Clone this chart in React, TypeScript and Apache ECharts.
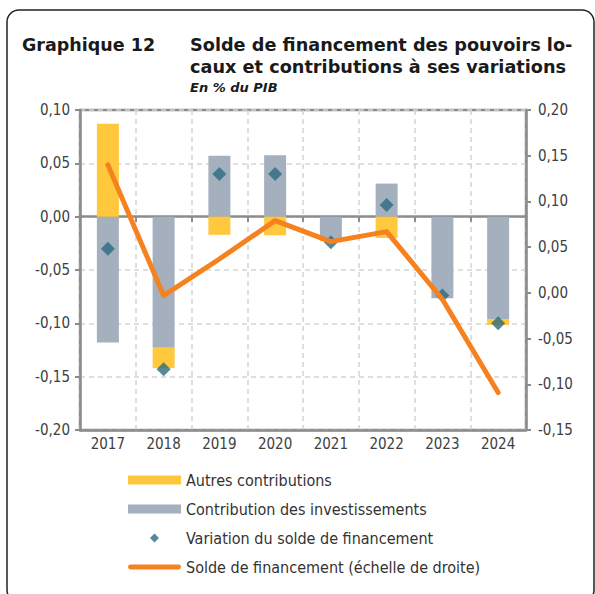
import React, { useEffect, useRef } from "react";
import * as echarts from "echarts";

const years = ["2017", "2018", "2019", "2020", "2021", "2022", "2023", "2024"];
const autresContributions = [0.087, -0.019, -0.017, -0.0175, -0.002, -0.02, 0, -0.0055];
const contributionInvestissements = [-0.118, -0.123, 0.057, 0.0575, -0.021, 0.031, -0.0766, -0.096];
const variationSolde = [-0.03, -0.143, 0.04, 0.04, -0.024, 0.011, -0.074, -0.1];
const soldeFinancement = [0.14, -0.003, 0.037, 0.079, 0.056, 0.067, -0.007, -0.109];

const FONT = "'DejaVu Sans Condensed', 'DejaVu Sans', sans-serif";
const TITLE_FONT = "'DejaVu Sans', sans-serif";
const AXIS_GREY = "#8c8c8c";
const GRID_GREY = "#d4d4d4";
const fmt = (v: number) => (Math.abs(v) < 1e-9 ? 0 : v).toFixed(2).replace(".", ",");

export default function App() {
  const ref = useRef<HTMLDivElement>(null);
  useEffect(() => {
    if (!ref.current) return;
    const chart = echarts.init(ref.current, undefined, { renderer: "svg" });
    chart.setOption({
      animation: false,
      textStyle: { fontFamily: FONT },
      title: [
        {
          text: "Graphique 12",
          left: 22,
          top: 34,
          padding: 0,
          textStyle: { fontFamily: TITLE_FONT, fontSize: 17.5, fontWeight: "bold", color: "#1a1a1a", lineHeight: 22 },
        },
        {
          text: "Solde de financement des pouvoirs lo-\ncaux et contributions à ses variations",
          left: 190,
          top: 34,
          padding: 0,
          textStyle: { fontFamily: TITLE_FONT, fontSize: 17.7, fontWeight: "bold", color: "#1a1a1a", lineHeight: 22 },
        },
        {
          text: "En % du PIB",
          left: 190,
          top: 79,
          padding: 0,
          textStyle: { fontFamily: TITLE_FONT, fontSize: 13, fontWeight: "bold", fontStyle: "italic", color: "#1a1a1a", lineHeight: 16 },
        },
      ],
      graphic: [
        {
          type: "rect",
          shape: { x: 7, y: 10, width: 587, height: 592, r: 12 },
          style: { fill: "none", stroke: "#222", lineWidth: 1.5 },
          silent: true,
          z: -10,
        },
      ],
      legend: {
        orient: "vertical",
        left: 128,
        top: 471,
        padding: 0,
        itemWidth: 53,
        itemHeight: 9,
        itemGap: 11,
        symbolKeepAspect: true,
        data: [
          { name: "Autres contributions", icon: "rect" },
          { name: "Contribution des investissements", icon: "rect" },
          { name: "Variation du solde de financement", icon: "path://M4,0 L8,4 L4,8 L0,4 Z" },
          {
            name: "Solde de financement (échelle de droite)",
            icon: "path://M2.5,0 L51.5,0 A2.5,2.5 0 0 1 51.5,5 L2.5,5 A2.5,2.5 0 0 1 2.5,0 Z",
          },
        ],
        textStyle: { fontFamily: FONT, fontSize: 16, color: "#333", lineHeight: 18 },
      },
      grid: { left: 80, right: 69, top: 110, bottom: 164, show: true, borderColor: AXIS_GREY, borderWidth: 2.5 },
      xAxis: [
        {
          type: "category",
          data: years,
          position: "bottom",
          axisLine: { onZero: false, lineStyle: { color: AXIS_GREY, width: 2.5 } },
          axisTick: { show: false },
          axisLabel: { fontFamily: FONT, fontSize: 15, color: "#404040", margin: 6 },
          splitLine: { show: true, lineStyle: { color: GRID_GREY, type: [5, 4], width: 1.5 } },
        },
        {
          type: "category",
          data: years,
          position: "bottom",
          axisLine: { onZero: true, onZeroAxisIndex: 0, lineStyle: { color: AXIS_GREY, width: 2.5 } },
          axisTick: { show: true, length: 5, lineStyle: { color: AXIS_GREY, width: 2 } },
          axisLabel: { show: false },
          splitLine: { show: false },
        },
      ],
      yAxis: [
        {
          type: "value",
          min: -0.2,
          max: 0.1,
          interval: 0.05,
          position: "left",
          axisLine: { show: true, lineStyle: { color: AXIS_GREY, width: 2.5 } },
          axisTick: { show: true, length: 5, lineStyle: { color: AXIS_GREY, width: 2 } },
          axisLabel: { fontFamily: FONT, fontSize: 15, color: "#404040", margin: 10, formatter: fmt },
          splitLine: { show: true, lineStyle: { color: GRID_GREY, type: [5, 4], width: 1.5 } },
        },
        {
          type: "value",
          min: -0.15,
          max: 0.2,
          interval: 0.05,
          position: "right",
          axisLine: { show: true, lineStyle: { color: AXIS_GREY, width: 2.5 } },
          axisTick: { show: true, length: 5, lineStyle: { color: AXIS_GREY, width: 2 } },
          axisLabel: { fontFamily: FONT, fontSize: 15, color: "#404040", margin: 12, formatter: fmt },
          splitLine: { show: false },
        },
      ],
      series: [
        {
          name: "Contribution des investissements",
          type: "bar",
          stack: "contrib",
          barWidth: 22,
          yAxisIndex: 0,
          itemStyle: { color: "#a5b0be" },
          data: contributionInvestissements,
          z: 2,
        },
        {
          name: "Autres contributions",
          type: "bar",
          stack: "contrib",
          barWidth: 22,
          yAxisIndex: 0,
          itemStyle: { color: "#ffc83d" },
          data: autresContributions,
          z: 2,
        },
        {
          name: "Variation du solde de financement",
          type: "scatter",
          symbol: "diamond",
          symbolSize: 14,
          yAxisIndex: 0,
          itemStyle: { color: "#2c6a80" },
          data: variationSolde,
          z: 3,
        },
        {
          name: "Solde de financement (échelle de droite)",
          type: "line",
          yAxisIndex: 1,
          symbol: "none",
          lineStyle: { color: "#f5821f", width: 5, cap: "round", join: "round" },
          itemStyle: { color: "#f5821f" },
          data: soldeFinancement,
          z: 4,
        },
      ],
    });
    return () => chart.dispose();
  }, []);
  return <div ref={ref} style={{ position: "fixed", left: 0, top: 0, width: 595, height: 594, background: "#fff" }} />;
}
